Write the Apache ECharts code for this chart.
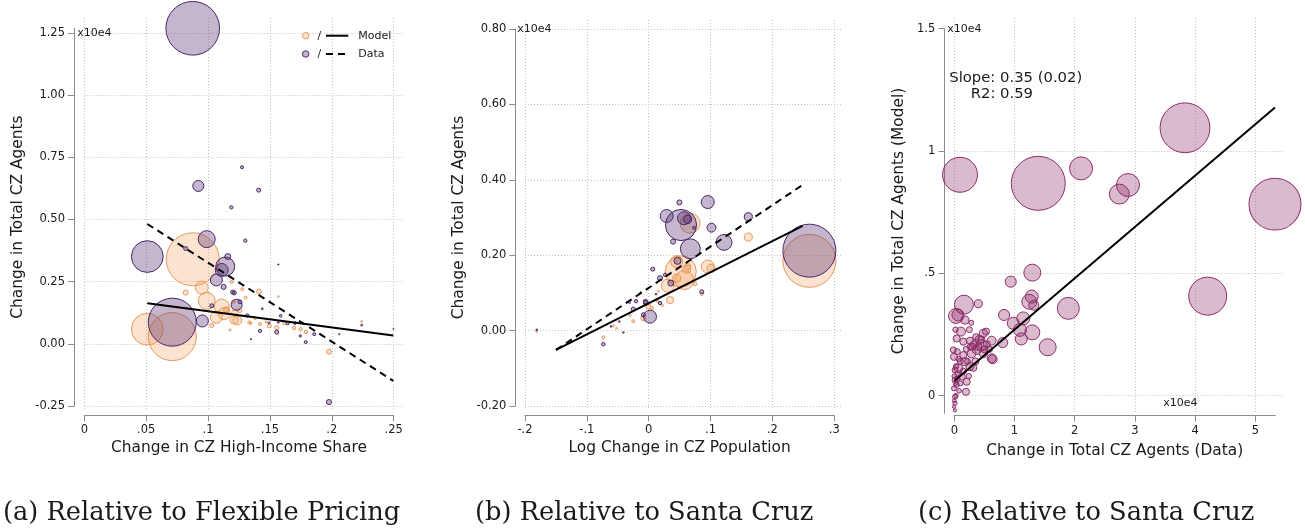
<!DOCTYPE html>
<html>
<head>
<meta charset="utf-8">
<script src="https://cdn.jsdelivr.net/npm/echarts@6.0.0/dist/echarts.min.js"></script>
<style>html,body{margin:0;padding:0;background:#fff;}#c{width:1305px;height:531px;}</style>
</head>
<body>
<div id="c"></div>
<script>
// ---------------- DATA ----------------
// Panel (a): x = change in CZ high-income share, y = change in total CZ agents (x10e4), w = CZ weight
const a_xTicks = [0, 0.05, 0.1, 0.15, 0.2, 0.25];
const a_xTickLabels = ['0', '.05', '.1', '.15', '.2', '.25'];
const a_yTicks = [-0.25, 0, 0.25, 0.5, 0.75, 1, 1.25];
const a_yTickLabels = ['-0.25', '0.00', '0.25', '0.50', '0.75', '1.00', '1.25'];
const a_model = [
  [.0509,.059,28],[.0711,.029,64],[.0876,.340,78],[.0949,.226,4.7],[.0989,.173,8],[.0819,.206,.7],
  [.1067,.107,4],[.111,.150,6.2],[.1129,.121,4],[.121,.096,1.8],[.1236,.094,2.2],[.1215,.126,1],
  [.1258,.134,.45],[.115,.137,1],[.1204,.170,.3],[.103,.074,.45],[.1191,.249,.25],[.1277,.220,.25],
  [.1412,.210,.7],[.1304,.186,.25],[.1177,.056,.12],[.1333,.086,.25],[.142,.080,.25],[.1495,.072,.45],
  [.1555,.065,.45],[.1616,.083,.3],[.1694,.064,.35],[.1748,.059,.3],[.1791,.048,.35],[.1977,-.032,.7],
  [.2241,.090,.1],[.1568,.190,.1],[.138,.103,.2],[.1345,.083,.2],[.147,.088,.15]
];
const a_data = [
  [.0509,.351,28],[.0711,.087,64],[.0876,1.269,80],[.0921,.635,3.4],[.0989,.421,8],[.1139,.311,10],
  [.111,.297,4.7],[.1067,.257,4],[.1159,.351,1],[.0954,.092,4],[.0819,.383,.45],[.1126,.229,.7],
  [.1199,.208,.45],[.1212,.205,.45],[.1231,.157,3.4],[.1258,.169,.4],[.103,.153,.45],[.1274,.710,.25],
  [.1409,.618,.45],[.1188,.549,.3],[.1301,.415,.3],[.1317,.114,.3],[.142,.052,.3],[.1555,.047,.45],
  [.1587,.113,.2],[.1643,.083,.3],[.1702,.083,.2],[.1745,.032,.15],[.1789,.007,.25],[.1858,.039,.25],
  [.1977,-.234,.7],[.2241,.075,.1],[.1568,.319,.05],[.1438,.141,.1],[.1347,.019,.05],[.2497,.06,.03],
  [.206,.039,.05],[.1568,.086,.1],[.1493,.084,.1]
];
const a_fitModel = [[.0509,.1635],[.2497,.0335]];
const a_fitData = [[.0509,.482],[.2497,-.149]];

// Panel (b): x = log change in CZ population
const b_xTicks = [-0.2, -0.1, 0, 0.1, 0.2, 0.3];
const b_xTickLabels = ['-.2', '-.1', '0', '.1', '.2', '.3'];
const b_yTicks = [-0.2, 0, 0.2, 0.4, 0.6, 0.8];
const b_yTickLabels = ['-0.20', '0.00', '0.20', '0.40', '0.60', '0.80'];
const b_model = [
  [.2597,.185,78],[.0517,.157,27],[.0668,.285,11],[.0576,.134,10],[.0452,.183,4],[.0614,.163,1.8],
  [.0307,.119,4.7],[.0452,.139,1.8],[.0954,.170,4.7],[.1007,.165,1.8],[.161,.248,1.8],[.063,.170,1],
  [.0749,.124,.4],[.0344,.081,1.4],[-.0006,.064,.7],[.005,.060,.3],[-.0087,.033,.7],[-.025,.025,.25],
  [-.0733,-.018,.25],[.0857,.097,.25],[.022,.067,.15],[.0145,.078,.15],[.0118,.081,.15],[.0155,.104,.1],
  [-.181,-.003,.08],[-.052,.006,.1],[-.057,.0125,.1],[-.030,.040,.1]
];
const b_data = [
  [.2597,.212,78],[.0522,.280,27],[.0673,.217,11],[.029,.304,4.7],[.0571,.298,4.7],[.063,.295,1.8],
  [.0496,.340,.7],[.0954,.341,4.7],[.1014,.273,2.2],[.0393,.236,.7],[.1217,.234,7],[.161,.302,1.8],
  [.0465,.185,1.4],[.0357,.126,1],[.0733,.273,.25],[.0065,.163,.45],[.0183,.139,.7],[.0264,.148,.3],
  [.0021,.037,4.7],[-.0044,.074,.7],[-.0054,.077,.5],[-.0205,.078,.3],[-.0313,.075,.15],[-.025,.057,.45],
  [-.0087,.042,.45],[.0183,.073,.3],[.0857,.103,.45],[-.0733,-.036,.35],[-.041,-.005,.08],[-.0476,.024,.08],
  [-.061,.011,.08],[-.013,.101,.08],[.0118,.0965,.08],[-.181,.002,.06]
];
const b_fitModel = [[-.1499,-.0512],[.2489,.2777]];
const b_fitData = [[-.1499,-.0512],[.2489,.3865]];

// Panel (c): x = change in total CZ agents (data), y = (model), both x10e4
const c_xTicks = [0, 1, 2, 3, 4, 5];
const c_xTickLabels = ['0', '1', '2', '3', '4', '5'];
const c_yTicks = [0, 0.5, 1, 1.5];
const c_yTickLabels = ['0', '.5', '1', '1.5'];
const c_points = [
  [3.832,1.095,69],[1.395,.868,81],[5.327,.783,75],[.095,.903,34],[2.105,.929,14.7],[2.885,.861,14.7],
  [2.741,.824,11],[4.209,.407,40],[1.894,.357,13.4],[1.296,.503,8],[.937,.466,3.4],[.160,.372,10],
  [.399,.376,1.8],[.028,.326,6.2],[.060,.330,4],[1.551,.198,8],[1.246,.384,6.2],[1.286,.405,4.7],
  [1.320,.370,2.8],[1.146,.316,4.7],[.980,.296,4],[1.296,.259,6.2],[1.113,.232,4],[1.091,.269,4.7],
  [.826,.330,3.4],[.804,.217,2.8],[.638,.149,2.2],[.178,.309,1.8],[.282,.298,.7],[.111,.262,2.2],
  [.482,.255,1.8],[.039,.234,1.4],[.150,.221,1.4],[.260,.225,1.4],[.415,.228,2.2],[.455,.207,3.4],
  [.527,.262,1.4],[.620,.225,2.2],[.372,.187,2.2],[.289,.173,2.2],[.482,.173,2],[.621,.153,2.2],
  [.150,.166,1.4],[-.005,.159,1.4],[.178,.139,1.8],[.066,.112,2.2],[.260,.119,1.8],[.123,.078,1.4],
  [.206,.057,1.4],[.194,.016,1.4],[.012,.105,1],[.012,.064,1],[-.005,.030,.7],[.012,-.004,.7],
  [.012,-.031,.5],[-.005,-.045,.3],[.039,.044,.7],[.070,.090,1],[-.016,.187,1],[.316,.114,1.4],
  [.350,.140,1.4],[.300,.200,1.4],[.200,.190,1],[.100,.140,1],[.050,.070,.8],[.080,.020,.6],
  [.030,.000,.5],[.020,.050,.5],[.100,.050,.7],[.150,.100,1],[.220,.140,1],[.330,.210,1.6],
  [.400,.200,1.6],[.500,.190,1.4],[.540,.210,1.4],[.450,.230,1.4],[.000,.080,.6],[.000,-.020,.4],
  [.010,-.060,.3],[.070,.150,.8],[.240,.080,.8],[.360,.240,1.2],[.580,.190,1.2],[.030,.120,.8],
  [.050,.180,1],[.020,.270,.8],[.250,.270,1],[.270,.200,1.2]
];
const c_fit = [[0,.06],[5.327,1.178]];

// ---------------- LAYOUT / STYLE ----------------
const FONT = 'DejaVu Sans';
const TICK_FS = 11.5, TITLE_FS = 15.4;
const AXIS_COL = '#8c8c8c', GRID_COL = '#c4c4c4', TXT = '#1a1a1a';
const ORANGE_FILL = 'rgba(240,150,80,0.27)', ORANGE_LINE = 'rgba(232,146,84,0.95)';
const PURPLE_FILL = 'rgba(80,40,110,0.34)', PURPLE_LINE = '#4b2767';
const PINK_FILL = 'rgba(140,40,100,0.32)', PINK_LINE = '#8e2d6c';
const TICK_LEN = 6;
const sizeFn = d => 6 * Math.sqrt(d[2]);

function lin(v0, p0, v1, p1) { return v => p0 + (v - v0) * (p1 - p0) / (v1 - v0); }

const panels = [
  { xMap: [0, 84.3, 0.25, 393.7], yMap: [-0.25, 406, 1.25, 33],
    L: { x: [0, 0.25], y: [-0.25, 1.269] }, V: { x: [0, 0.2575], yPx: [18, 410.7] }, H: { y: [-0.25, 1.31], xPx: [84.3, 403] },
    xInt: 0.05, yInt: 0.25, xOff: 9.3, yOff: 10.3, xGap: 25, yGap: 49,
    xTicks: a_xTicks, xLabels: a_xTickLabels, yTicks: a_yTicks, yLabels: a_yTickLabels,
    xName: 'Change in CZ High-Income Share', yName: 'Change in Total CZ Agents' },
  { xMap: [-0.2, 525, 0.3, 834.3], yMap: [-0.2, 406, 0.8, 29],
    L: { x: [-0.2, 0.3], y: [-0.2, 0.8] }, V: { x: [-0.2, 0.3068], yPx: [20, 410] }, H: { y: [-0.2, 0.824], xPx: [525, 842.7] },
    xInt: 0.1, yInt: 0.2, xOff: 9.3, yOff: 9.7, xGap: 25, yGap: 49,
    xTicks: b_xTicks, xLabels: b_xTickLabels, yTicks: b_yTicks, yLabels: b_yTickLabels,
    xName: 'Log Change in CZ Population', yName: 'Change in Total CZ Agents' },
  { xMap: [0, 954.3, 5, 1255.3], yMap: [0, 395.7, 1.5, 28.7],
    L: { x: [0, 5.33], y: [-0.072, 1.5] }, V: { x: [0, 5.465], yPx: [18, 413.3] }, H: { y: [0, 1.5], xPx: [954.3, 1283.3] },
    xInt: 1, yInt: 0.5, xOff: 2.4, yOff: 10, xGap: 27.5, yGap: 38,
    xTicks: c_xTicks, xLabels: c_xTickLabels, yTicks: c_yTicks, yLabels: c_yTickLabels,
    xName: 'Change in Total CZ Agents (Data)', yName: 'Change in Total CZ Agents (Model)' }
];

const grids = [], xAxes = [], yAxes = [];
const hidden = { show: false };
const gridLine = { show: true, showMaxLine: false, lineStyle: { color: GRID_COL, width: 1, type: [1, 2] } };
const tickLine = { show: true, showMinLine: true, showMaxLine: true, lineStyle: { color: AXIS_COL, width: 1, type: 'solid' } };
const blankAxis = (gi) => ({ gridIndex: gi, type: 'value', min: 0, max: 1, axisLine: hidden, axisTick: hidden, axisLabel: hidden, splitLine: hidden });

function lookup(ticks, labels) {
  return v => { for (let i = 0; i < ticks.length; i++) if (Math.abs(ticks[i] - v) < 1e-9) return labels[i]; return ''; };
}
function addGrid(g) { g.outerBoundsMode = 'none'; g.containLabel = false; grids.push(g); return grids.length - 1; }

panels.forEach(p => {
  const X = lin(p.xMap[0], p.xMap[1], p.xMap[2], p.xMap[3]);
  const Y = lin(p.yMap[0], p.yMap[1], p.yMap[2], p.yMap[3]);
  const xT0 = p.xTicks[0], xT1 = p.xTicks[p.xTicks.length - 1];
  const yT0 = p.yTicks[0], yT1 = p.yTicks[p.yTicks.length - 1];
  const axisY = Y(p.L.y[0]) + p.xOff;   // pixel row of the x axis line
  const axisX = X(p.L.x[0]) - p.yOff;   // pixel column of the y axis line
  // vertical gridlines
  let gi = addGrid({ left: X(p.V.x[0]), width: X(p.V.x[1]) - X(p.V.x[0]), top: p.V.yPx[0], height: p.V.yPx[1] - p.V.yPx[0] });
  xAxes.push({ gridIndex: gi, type: 'value', min: p.V.x[0], max: p.V.x[1], interval: p.xInt, axisLine: hidden, axisTick: hidden, axisLabel: hidden, splitLine: gridLine });
  yAxes.push(blankAxis(gi));
  // horizontal gridlines
  gi = addGrid({ left: p.H.xPx[0], width: p.H.xPx[1] - p.H.xPx[0], top: Y(p.H.y[1]), height: Y(p.H.y[0]) - Y(p.H.y[1]) });
  xAxes.push(blankAxis(gi));
  yAxes.push({ gridIndex: gi, type: 'value', min: p.H.y[0], max: p.H.y[1], interval: p.yInt, axisLine: hidden, axisTick: hidden, axisLabel: hidden, splitLine: gridLine });
  // x tick marks (thin strip under the x axis line)
  gi = addGrid({ left: X(xT0), width: X(xT1) - X(xT0), top: axisY, height: TICK_LEN });
  xAxes.push({ gridIndex: gi, type: 'value', min: xT0, max: xT1, interval: p.xInt, axisLine: hidden, axisTick: hidden, axisLabel: hidden, splitLine: tickLine });
  yAxes.push(blankAxis(gi));
  // y tick marks (thin strip left of the y axis line)
  gi = addGrid({ left: axisX - TICK_LEN, width: TICK_LEN, top: Y(yT1), height: Y(yT0) - Y(yT1) });
  xAxes.push(blankAxis(gi));
  yAxes.push({ gridIndex: gi, type: 'value', min: yT0, max: yT1, interval: p.yInt, axisLine: hidden, axisTick: hidden, axisLabel: hidden, splitLine: tickLine });
  // tick labels (tick range only)
  gi = addGrid({ left: X(xT0), width: X(xT1) - X(xT0), top: Y(yT1), height: Y(yT0) - Y(yT1) });
  xAxes.push({ gridIndex: gi, type: 'value', min: xT0, max: xT1, interval: p.xInt, position: 'bottom',
    offset: axisY - Y(yT0),
    axisLine: { show: false, onZero: false }, axisTick: hidden,
    axisLabel: { show: true, formatter: lookup(p.xTicks, p.xLabels), margin: 9, color: TXT, fontFamily: FONT, fontSize: TICK_FS, showMinLabel: true, showMaxLabel: true },
    splitLine: hidden });
  yAxes.push({ gridIndex: gi, type: 'value', min: yT0, max: yT1, interval: p.yInt, position: 'left',
    offset: X(xT0) - axisX,
    axisLine: { show: false, onZero: false }, axisTick: hidden,
    axisLabel: { show: true, formatter: lookup(p.yTicks, p.yLabels), margin: 9, color: TXT, fontFamily: FONT, fontSize: TICK_FS, showMinLabel: true, showMaxLabel: true },
    splitLine: hidden });
  // axis lines + names + data
  gi = addGrid({ left: X(p.L.x[0]), width: X(p.L.x[1]) - X(p.L.x[0]), top: Y(p.L.y[1]), height: Y(p.L.y[0]) - Y(p.L.y[1]) });
  p.gi = gi;
  xAxes.push({ gridIndex: gi, type: 'value', min: p.L.x[0], max: p.L.x[1], offset: p.xOff, position: 'bottom',
    axisLine: { show: true, onZero: false, lineStyle: { color: AXIS_COL, width: 1 } },
    axisTick: hidden, axisLabel: hidden, splitLine: hidden,
    name: p.xName, nameLocation: 'middle', nameGap: p.xGap, nameTextStyle: { color: TXT, fontFamily: FONT, fontSize: TITLE_FS } });
  yAxes.push({ gridIndex: gi, type: 'value', min: p.L.y[0], max: p.L.y[1], offset: p.yOff, position: 'left',
    axisLine: { show: true, onZero: false, lineStyle: { color: AXIS_COL, width: 1 } },
    axisTick: hidden, axisLabel: hidden, splitLine: hidden,
    name: p.yName, nameLocation: 'middle', nameGap: p.yGap, nameTextStyle: { color: TXT, fontFamily: FONT, fontSize: TITLE_FS } });
});

function bubbles(gi, data, fill, line) {
  return { type: 'scatter', xAxisIndex: gi, yAxisIndex: gi, data: data, symbol: 'circle', symbolSize: sizeFn, clip: false,
    itemStyle: { color: fill, borderColor: line, borderWidth: 1, opacity: 1 }, emphasis: { disabled: true }, z: 2 };
}
function fitLine(gi, data, dashed) {
  return { type: 'line', xAxisIndex: gi, yAxisIndex: gi, data: data, showSymbol: false, symbol: 'none', clip: false,
    lineStyle: { color: '#000', width: 2, type: dashed ? [7, 5] : 'solid' }, z: 5, silent: true };
}

const series = [
  bubbles(panels[0].gi, a_model, ORANGE_FILL, ORANGE_LINE),
  bubbles(panels[0].gi, a_data, PURPLE_FILL, PURPLE_LINE),
  fitLine(panels[0].gi, a_fitModel, false),
  fitLine(panels[0].gi, a_fitData, true),
  bubbles(panels[1].gi, b_model, ORANGE_FILL, ORANGE_LINE),
  bubbles(panels[1].gi, b_data, PURPLE_FILL, PURPLE_LINE),
  fitLine(panels[1].gi, b_fitModel, false),
  fitLine(panels[1].gi, b_fitData, true),
  bubbles(panels[2].gi, c_points, PINK_FILL, PINK_LINE),
  fitLine(panels[2].gi, c_fit, false)
];

function txt(x, y, text, size, family, align) {
  return { type: 'text', x: x, y: y, silent: true, z: 10,
    style: { text: text, font: size + 'px "' + (family || FONT) + '"', fill: TXT, align: align || 'left', verticalAlign: 'middle' } };
}
const SERIF = 'DejaVu Serif';
const graphic = [
  txt(77.3, 33.3, 'x10e4', 11),
  txt(517.3, 29.3, 'x10e4', 11),
  txt(947.3, 29.3, 'x10e4', 11),
  txt(1163.3, 402.7, 'x10e4', 11),
  // legend (panel a)
  { type: 'circle', shape: { cx: 305.7, cy: 35.7, r: 3.2 }, style: { fill: ORANGE_FILL, stroke: ORANGE_LINE, lineWidth: 1 }, z: 10 },
  txt(317.5, 35.7, '/', 11),
  { type: 'line', shape: { x1: 326, y1: 35.7, x2: 348.3, y2: 35.7 }, style: { stroke: '#000', lineWidth: 2 }, z: 10 },
  txt(358.3, 35.7, 'Model', 11),
  { type: 'circle', shape: { cx: 305.7, cy: 54, r: 3.2 }, style: { fill: PURPLE_FILL, stroke: PURPLE_LINE, lineWidth: 1 }, z: 10 },
  txt(317.5, 54, '/', 11),
  { type: 'line', shape: { x1: 326, y1: 54, x2: 348.3, y2: 54 }, style: { stroke: '#000', lineWidth: 2, lineDash: [7, 5] }, z: 10 },
  txt(358.3, 54, 'Data', 11),
  // panel c annotation
  txt(949.3, 77.7, 'Slope: 0.35 (0.02)', 14.8),
  txt(970.7, 94.3, 'R2: 0.59', 14.8),
  // captions
  txt(3, 513, '(a) Relative to Flexible Pricing', 25.7, SERIF),
  txt(475, 513, '(b) Relative to Santa Cruz', 25.7, SERIF),
  txt(918, 513, '(c) Relative to Santa Cruz', 25.7, SERIF)
];

const chart = echarts.init(document.getElementById('c'), null, { renderer: 'canvas', width: 1305, height: 531 });
chart.setOption({
  animation: false,
  backgroundColor: '#ffffff',
  grid: grids, xAxis: xAxes, yAxis: yAxes, series: series, graphic: graphic
});
</script>
</body>
</html>
